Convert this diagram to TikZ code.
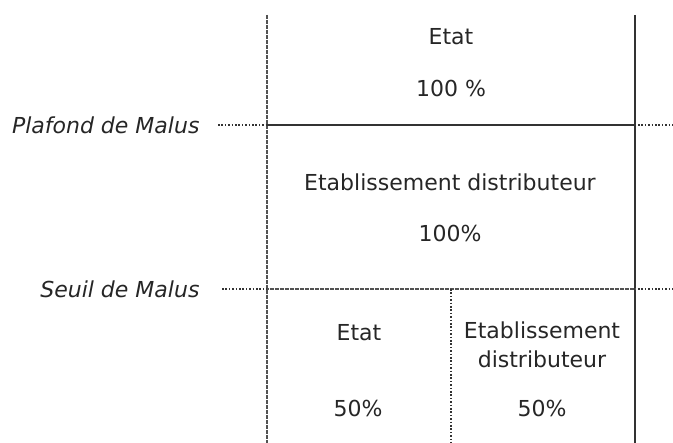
\documentclass[tikz,border=0pt]{standalone}
\usepackage{fontspec}
\setmainfont{DejaVu Sans}
\definecolor{rulegray}{HTML}{333333}
\definecolor{textgray}{HTML}{262626}
\begin{document}
\begin{tikzpicture}[x=1pt,y=-1pt,
  rule/.style={line width=2.4pt,color=rulegray},
  hatchrule/.style={rule,color=rulegray!85,dash pattern=on 2pt off 0.5pt},
  dotrule/.style={line width=2.4pt,color=rulegray,dash pattern=on 1.6pt off 1.8pt},
  celltext/.style={text=textgray,font=\fontsize{22}{29}\selectfont,align=center},
  levellabel/.style={celltext,font=\fontsize{22}{29}\itshape,anchor=east}]
\useasboundingbox (0,0) rectangle (673,443);

% frame of the table
\coordinate (lt) at (267,15);
\coordinate (lb) at (267,443);
\coordinate (rt) at (635,15);
\coordinate (rb) at (635,443);
\coordinate (pl) at (267,125);
\coordinate (pr) at (635,125);
\coordinate (sl) at (267,289);
\coordinate (sr) at (635,289);
\coordinate (mt) at (451,289);
\coordinate (mb) at (451,443);

\draw[hatchrule] (lt) -- (lb);
\draw[rule] (rt) -- (rb);
\draw[rule] (pl) -- (pr);
\draw[hatchrule] (sl) -- (sr);
\draw[dotrule] (mt) -- (mb);

% levels of the malus
\node[levellabel] (plafond) at (203,125) {Plafond de Malus};
\node[levellabel] (seuil) at (203,289) {Seuil de Malus};
\coordinate (pend) at (673,125);
\coordinate (send) at (673,289);
\draw[dotrule] (plafond.east) ++(15,0) -- (pl);
\draw[dotrule] (pr) ++(3,0) -- (pend);
\draw[dotrule] (seuil.east) ++(19,0) -- (sl);
\draw[dotrule] (sr) ++(3,0) -- (send);

% shares
\node[celltext] (etat) at (451,37) {Etat};
\node[celltext] (etatpc) at (451,88) {100 \%};
\node[celltext] (etab) at (450,182) {Etablissement distributeur};
\node[celltext] (etabpc) at (450,233) {100\%};
\node[celltext] (etatbas) at (359,333) {Etat};
\node[celltext] (etabbas) at (542,345) {Etablissement\\distributeur};
\node[celltext] (etatbaspc) at (358,408) {50\%};
\node[celltext] (etabbaspc) at (542,408) {50\%};
\end{tikzpicture}
\end{document}
